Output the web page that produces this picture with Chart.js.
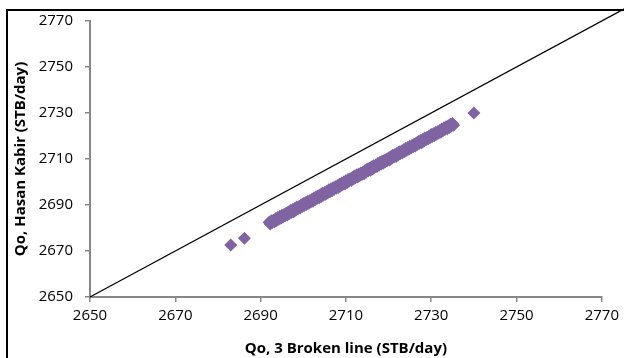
<!DOCTYPE html>
<html>
<head>
<meta charset="utf-8">
<script src="https://cdn.jsdelivr.net/npm/chart.js@4/dist/chart.umd.min.js"></script>
<style>
  html, body { margin: 0; padding: 0; background: #fff; }
  #wrap { position: relative; width: 624px; height: 358px; overflow: hidden; }
  #frame { position: absolute; left: 6px; top: 9px; width: 700px; height: 400px; border: 2px solid #000; box-sizing: border-box; }
  canvas { position: absolute; left: 0; top: 0; }
</style>
</head>
<body>
<div id="wrap">
  <div id="frame"></div>
  <canvas id="c" width="624" height="358"></canvas>
</div>
<script>
// Oil rate from the 3-broken-line model (x) vs Hasan Kabir correlation (y), STB/day
const qoBrokenLine = [
  2683.0, 2686.2,
  2692.00, 2692.25, 2692.50, 2692.75, 2693.00, 2693.25, 2693.50, 2693.75,
  2694.00, 2694.25, 2694.50, 2694.75, 2695.00, 2695.25, 2695.50, 2695.75,
  2696.00, 2696.25, 2696.50, 2696.75, 2697.00, 2697.25, 2697.50, 2697.75,
  2698.00, 2698.25, 2698.50, 2698.75, 2699.00, 2699.25, 2699.50, 2699.75,
  2700.00, 2700.25, 2700.50, 2700.75, 2701.00, 2701.25, 2701.50, 2701.75,
  2702.00, 2702.25, 2702.50, 2702.75, 2703.00, 2703.25, 2703.50, 2703.75,
  2704.00, 2704.25, 2704.50, 2704.75, 2705.00, 2705.25, 2705.50, 2705.75,
  2706.00, 2706.25, 2706.50, 2706.75, 2707.00, 2707.25, 2707.50, 2707.75,
  2708.00, 2708.25, 2708.50, 2708.75, 2709.00, 2709.25, 2709.50, 2709.75,
  2710.00, 2710.25, 2710.50, 2710.75, 2711.00, 2711.25, 2711.50, 2711.75,
  2712.00, 2712.25, 2712.50, 2712.75, 2713.00, 2713.25, 2713.50, 2713.75,
  2714.00, 2714.25, 2714.50, 2714.75, 2715.00, 2715.25, 2715.50, 2715.75,
  2716.00, 2716.25, 2716.50, 2716.75, 2717.00, 2717.25, 2717.50, 2717.75,
  2718.00, 2718.25, 2718.50, 2718.75, 2719.00, 2719.25, 2719.50, 2719.75,
  2720.00, 2720.25, 2720.50, 2720.75, 2721.00, 2721.25, 2721.50, 2721.75,
  2722.00, 2722.25, 2722.50, 2722.75, 2723.00, 2723.25, 2723.50, 2723.75,
  2724.00, 2724.25, 2724.50, 2724.75, 2725.00, 2725.25, 2725.50, 2725.75,
  2726.00, 2726.25, 2726.50, 2726.75, 2727.00, 2727.25, 2727.50, 2727.75,
  2728.00, 2728.25, 2728.50, 2728.75, 2729.00, 2729.25, 2729.50, 2729.75,
  2730.00, 2730.25, 2730.50, 2730.75, 2731.00, 2731.25, 2731.50, 2731.75,
  2732.00, 2732.25, 2732.50, 2732.75, 2733.00, 2733.25, 2733.50, 2733.75,
  2734.00, 2734.25, 2734.50, 2734.75, 2735.00, 2735.25,
  2740.0
];
const qoHasanKabir = [
  2672.6, 2675.5,
  2682.5, 2681.7, 2683.1, 2682.4, 2683.4, 2682.7, 2684.0, 2683.3,
  2684.6, 2683.8, 2685.0, 2684.2, 2685.5, 2684.8, 2685.9, 2685.3,
  2686.4, 2685.6, 2687.0, 2686.3, 2687.6, 2686.9, 2688.0, 2687.1,
  2688.5, 2687.7, 2689.1, 2688.4, 2689.4, 2688.7, 2690.0, 2689.3,
  2690.6, 2689.8, 2691.0, 2690.2, 2691.5, 2690.8, 2691.9, 2691.3,
  2692.4, 2691.6, 2693.0, 2692.3, 2693.6, 2692.9, 2694.0, 2693.1,
  2694.5, 2693.7, 2695.1, 2694.4, 2695.4, 2694.7, 2696.0, 2695.3,
  2696.6, 2695.8, 2697.0, 2696.2, 2697.5, 2696.8, 2697.9, 2697.3,
  2698.4, 2697.6, 2699.0, 2698.3, 2699.6, 2698.9, 2700.0, 2699.1,
  2700.5, 2699.7, 2701.1, 2700.4, 2701.4, 2700.7, 2702.0, 2701.3,
  2702.6, 2701.8, 2703.0, 2702.2, 2703.5, 2702.8, 2703.9, 2703.3,
  2704.4, 2703.6, 2705.0, 2704.3, 2705.6, 2704.9, 2706.0, 2705.1,
  2706.5, 2705.7, 2707.1, 2706.4, 2707.4, 2706.7, 2708.0, 2707.3,
  2708.6, 2707.8, 2709.0, 2708.2, 2709.5, 2708.8, 2709.9, 2709.3,
  2710.4, 2709.6, 2711.0, 2710.3, 2711.6, 2710.9, 2712.0, 2711.1,
  2712.5, 2711.7, 2713.1, 2712.4, 2713.4, 2712.7, 2714.0, 2713.3,
  2714.6, 2713.8, 2715.0, 2714.2, 2715.5, 2714.8, 2715.9, 2715.3,
  2716.4, 2715.6, 2717.0, 2716.3, 2717.6, 2716.9, 2718.0, 2717.1,
  2718.5, 2717.7, 2719.1, 2718.4, 2719.4, 2718.7, 2720.0, 2719.3,
  2720.6, 2719.8, 2721.0, 2720.2, 2721.5, 2720.8, 2721.9, 2721.3,
  2722.4, 2721.6, 2723.0, 2722.3, 2723.6, 2722.9, 2724.0, 2723.1,
  2724.5, 2723.7, 2725.1, 2724.4, 2725.4, 2724.7,
  2730.0
];
// 1:1 reference line
const diagX = [2650, 2780];
const diagY = [2650, 2780];
// axis range and tick step
const axisMin = 2650, axisMax = 2770, axisStep = 20;

const scatterPts = qoBrokenLine.map((x, i) => ({ x: x, y: qoHasanKabir[i] }));
const diagPts = diagX.map((x, i) => ({ x: x, y: diagY[i] }));

const axisGrey = '#878787';
const tickFont = { family: 'Open Sans', size: 15 };
const titleFont = { family: 'Open Sans', size: 15, weight: 'bold' };
const plainTick = v => String(v);

new Chart(document.getElementById('c'), {
  type: 'scatter',
  data: {
    datasets: [
      {
        data: scatterPts,
        pointStyle: 'rectRot',
        pointRadius: 6.5,
        pointHoverRadius: 6.5,
        backgroundColor: '#8064A2',
        borderColor: '#8064A2',
        borderWidth: 0,
        order: 1
      },
      {
        type: 'line',
        data: diagPts,
        showLine: true,
        borderColor: '#000',
        borderWidth: 1.3,
        pointRadius: 0,
        fill: false,
        clip: false,
        order: 2
      }
    ]
  },
  options: {
    responsive: false,
    animation: false,
    events: [],
    layout: { padding: { left: 8, top: 21, right: 18, bottom: 0 } },
    plugins: { legend: { display: false }, tooltip: { enabled: false } },
    scales: {
      x: {
        type: 'linear',
        min: axisMin, max: axisMax,
        ticks: { stepSize: axisStep, color: '#000', font: tickFont, padding: 5, maxRotation: 0, callback: plainTick },
        grid: { drawOnChartArea: false, drawTicks: true, tickLength: 5, color: axisGrey, lineWidth: 1.5 },
        border: { display: true, color: axisGrey, width: 2 },
        title: { display: true, text: 'Qo, 3 Broken line (STB/day)', color: '#000', font: titleFont, padding: { top: 4, bottom: 0 } },
        afterFit: s => { s.height = 61; }
      },
      y: {
        type: 'linear',
        min: axisMin, max: axisMax,
        ticks: { stepSize: axisStep, color: '#000', font: tickFont, padding: 12, callback: plainTick },
        grid: { drawOnChartArea: false, drawTicks: true, tickLength: 5, color: axisGrey, lineWidth: 1.5 },
        border: { display: true, color: axisGrey, width: 2 },
        title: { display: true, text: 'Qo, Hasan Kabir (STB/day)', color: '#000', font: titleFont, padding: { top: 4, bottom: 0 } },
        afterFit: s => { s.width = 82; }
      }
    }
  }
});
</script>
</body>
</html>
